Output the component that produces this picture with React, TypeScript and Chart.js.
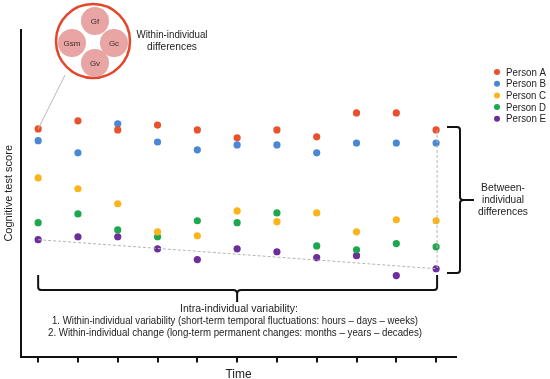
import React, { useEffect, useRef } from "react";
import { Chart, registerables } from "chart.js";

Chart.register(...registerables);

const timePoints = [0, 1, 2, 3, 4, 5, 6, 7, 8, 9, 10];
const seriesNames = ["Person A", "Person B", "Person C", "Person D", "Person E"];
const personA = [69.7, 72.2, 69.4, 70.9, 69.4, 67.0, 69.4, 67.3, 74.6, 74.6, 69.4];
const personB = [66.1, 62.4, 71.3, 65.7, 63.3, 64.8, 64.8, 62.4, 65.4, 65.4, 65.4];
const personC = [54.7, 51.4, 46.8, 38.2, 37.0, 44.6, 41.3, 44.0, 38.2, 41.9, 41.6];
const personD = [41.0, 43.7, 38.8, 36.7, 41.6, 41.0, 44.0, 33.9, 32.7, 34.6, 33.6];
const personE = [35.8, 36.7, 36.7, 33.0, 29.7, 33.0, 32.1, 30.3, 30.9, 24.8, 26.9];
const seriesValues = [personA, personB, personC, personD, personE];
const seriesColors = ["#e9502d", "#4a88d6", "#fbb41a", "#1ea84e", "#6d2d9b"];
const abilityLabels = ["Gf", "Gsm", "Gc", "Gv"];
const intraLines = [
  "Intra-individual variability:",
  "1. Within-individual variability (short-term temporal fluctuations: hours \u2013 days \u2013 weeks)",
  "2. Within-individual change (long-term permanent changes: months \u2013 years \u2013 decades)",
];
const withinLabel = ["Within-individual", "differences"];
const betweenLabel = ["Between-", "individual", "differences"];

const FONT = "'Liberation Sans', Arial, Helvetica, sans-serif";

const annotationPlugin = {
  id: "annotations",
  afterDatasetsDraw(chart: any) {
    const ctx = chart.ctx as CanvasRenderingContext2D;
    const xs = chart.scales.x;
    const ys = chart.scales.y;
    const px = (v: number) => xs.getPixelForValue(v);
    const py = (v: number) => ys.getPixelForValue(v);
    const first = timePoints[0];
    const last = timePoints[timePoints.length - 1];
    ctx.save();

    // dashed guide lines
    ctx.strokeStyle = "#b5b5b5";
    ctx.lineWidth = 1;
    ctx.setLineDash([3, 2]);
    ctx.beginPath();
    ctx.moveTo(px(first), py(personE[0]));
    ctx.lineTo(px(last), py(personE[personE.length - 1]));
    ctx.stroke();
    ctx.beginPath();
    ctx.moveTo(px(last) + 1, py(personA[personA.length - 1]));
    ctx.lineTo(px(last) + 1, py(personE[personE.length - 1]));
    ctx.stroke();
    ctx.setLineDash([]);

    // line from circle to first point
    const cx = 93, cy = 41, r = 37;
    ctx.strokeStyle = "#b8b8b8";
    ctx.lineWidth = 1;
    ctx.beginPath();
    ctx.moveTo(px(first), py(personA[0]));
    ctx.lineTo(65, 75);
    ctx.stroke();

    // big circle
    ctx.beginPath();
    ctx.arc(cx, cy, r, 0, Math.PI * 2);
    ctx.fillStyle = "#ffffff";
    ctx.fill();
    ctx.strokeStyle = "#e4462a";
    ctx.lineWidth = 2.5;
    ctx.stroke();
    const inner = [
      [95, 21],
      [72, 43],
      [114, 43],
      [95, 63],
    ];
    inner.forEach(([x, y], i) => {
      ctx.beginPath();
      ctx.arc(x, y, 14, 0, Math.PI * 2);
      ctx.fillStyle = "#e9a4a4";
      ctx.fill();
      ctx.fillStyle = "#3a2a2a";
      ctx.font = `8px ${FONT}`;
      ctx.textAlign = "center";
      ctx.textBaseline = "middle";
      ctx.fillText(abilityLabels[i], x, y + 0.5);
    });

    ctx.fillStyle = "#222";
    ctx.font = `11px ${FONT}`;
    ctx.textAlign = "center";
    ctx.textBaseline = "middle";
    ctx.fillText(withinLabel[0], 172, 35, 71);
    ctx.fillText(withinLabel[1], 172, 47, 50);
    ctx.fillText(betweenLabel[0], 503, 188, 44);
    ctx.fillText(betweenLabel[1], 503, 200, 42);
    ctx.fillText(betweenLabel[2], 503, 212, 50);

    // right curly brace
    ctx.strokeStyle = "#111";
    ctx.lineWidth = 2;
    const bx = 460, bt = 127, bb = 273, bm = 200;
    ctx.beginPath();
    ctx.moveTo(447, bt);
    ctx.lineTo(bx - 3, bt);
    ctx.quadraticCurveTo(bx, bt, bx, bt + 3);
    ctx.lineTo(bx, bm - 3);
    ctx.quadraticCurveTo(bx, bm, bx + 4, bm);
    ctx.lineTo(474, bm);
    ctx.moveTo(bx + 4, bm);
    ctx.quadraticCurveTo(bx, bm, bx, bm + 3);
    ctx.lineTo(bx, bb - 3);
    ctx.quadraticCurveTo(bx, bb, bx - 3, bb);
    ctx.lineTo(447, bb);
    ctx.stroke();

    // bottom curly brace
    const lx = px(first), rx = px(last) + 1, mx = px(5);
    const top = 275, hy = 290, tip = 302;
    ctx.beginPath();
    ctx.moveTo(lx, top);
    ctx.lineTo(lx, hy - 3);
    ctx.quadraticCurveTo(lx, hy, lx + 3, hy);
    ctx.lineTo(mx - 4, hy);
    ctx.quadraticCurveTo(mx, hy, mx, hy + 4);
    ctx.lineTo(mx, tip);
    ctx.moveTo(mx, hy + 4);
    ctx.quadraticCurveTo(mx, hy, mx + 4, hy);
    ctx.lineTo(rx - 3, hy);
    ctx.quadraticCurveTo(rx, hy, rx, hy - 3);
    ctx.lineTo(rx, top);
    ctx.stroke();

    // intra text
    ctx.fillStyle = "#222";
    ctx.font = `10.5px ${FONT}`;
    ctx.textAlign = "center";
    ctx.fillText(intraLines[0], 239, 309, 122);
    ctx.fillText(intraLines[1], 235, 321, 366);
    ctx.fillText(intraLines[2], 235, 333, 374);

    // legend
    ctx.font = `11px ${FONT}`;
    ctx.textAlign = "left";
    seriesNames.forEach((name, i) => {
      const y = 72 + i * 11.7;
      ctx.beginPath();
      ctx.arc(497, y, 3, 0, Math.PI * 2);
      ctx.fillStyle = seriesColors[i];
      ctx.fill();
      ctx.fillStyle = "#222";
      ctx.fillText(name, 506, y + 0.5, 40);
    });

    ctx.restore();
  },
};

export default function App() {
  const canvasRef = useRef<HTMLCanvasElement | null>(null);

  useEffect(() => {
    document.body.style.margin = "0";
    const canvas = canvasRef.current;
    if (!canvas) return;
    const chart = new Chart(canvas, {
      type: "scatter",
      data: {
        datasets: seriesNames.map((name, i) => ({
          label: name,
          data: timePoints.map((t, j) => ({ x: t, y: seriesValues[i][j] })),
          backgroundColor: seriesColors[i],
          borderColor: seriesColors[i],
          borderWidth: 0,
          pointRadius: 3.6,
          pointHoverRadius: 3.6,
        })),
      },
      options: {
        responsive: false,
        animation: false,
        devicePixelRatio: 1,
        layout: { padding: { top: 30, right: 94, bottom: 0, left: 0 } },
        plugins: {
          legend: { display: false },
          tooltip: { enabled: false },
        },
        scales: {
          x: {
            type: "linear",
            min: -0.426,
            max: 10.5,
            ticks: { display: false, stepSize: 1, includeBounds: false },
            grid: {
              display: true,
              drawOnChartArea: false,
              drawTicks: true,
              tickLength: 6,
              color: "#111",
              lineWidth: 2,
            },
            border: { display: true, color: "#111", width: 2 },
            title: {
              display: true,
              text: "Time",
              color: "#222",
              font: { family: FONT, size: 12 },
              padding: { top: 5, bottom: -3 },
            },
          },
          y: {
            type: "linear",
            min: 0,
            max: 100,
            ticks: { display: false },
            grid: { display: false },
            border: { display: true, color: "#111", width: 2 },
            title: {
              display: true,
              text: "Cognitive test score",
              color: "#222",
              font: { family: FONT, size: 11 },
              padding: { top: 2, bottom: -2 },
            },
          },
        },
      },
      plugins: [annotationPlugin],
    });
    return () => chart.destroy();
  }, []);

  return (
    <div style={{ position: "absolute", left: 0, top: 0, width: 550, height: 379 }}>
      <canvas ref={canvasRef} width={550} height={379} style={{ width: 550, height: 379 }} />
    </div>
  );
}
